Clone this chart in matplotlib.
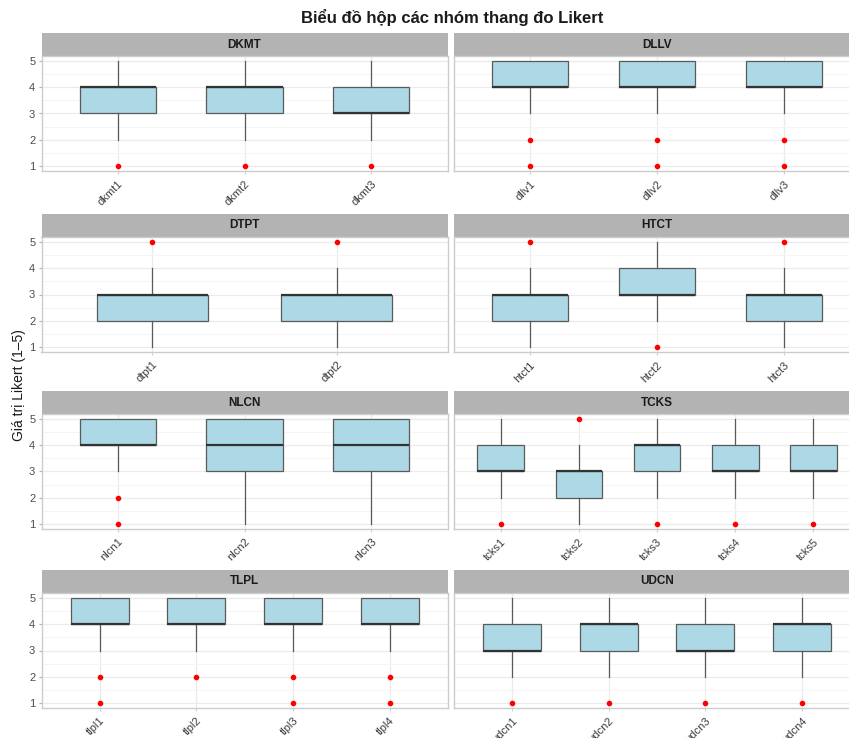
import matplotlib.pyplot as plt
from matplotlib.ticker import MultipleLocator

plt.rcParams['font.family'] = ['Liberation Sans', 'DejaVu Sans']

# box statistics, one inner list per facet
groups = ["DKMT", "DLLV", "DTPT", "HTCT", "NLCN", "TCKS", "TLPL", "UDCN"]
items = [
    ["dkmt1", "dkmt2", "dkmt3"],
    ["dllv1", "dllv2", "dllv3"],
    ["dtpt1", "dtpt2"],
    ["htct1", "htct2", "htct3"],
    ["nlcn1", "nlcn2", "nlcn3"],
    ["tcks1", "tcks2", "tcks3", "tcks4", "tcks5"],
    ["tlpl1", "tlpl2", "tlpl3", "tlpl4"],
    ["udcn1", "udcn2", "udcn3", "udcn4"],
]
q1 = [[3, 3, 3], [4, 4, 4], [2, 2], [2, 3, 2], [4, 3, 3],
      [3, 2, 3, 3, 3], [4, 4, 4, 4], [3, 3, 3, 3]]
med = [[4, 4, 3], [4, 4, 4], [3, 3], [3, 3, 3], [4, 4, 4],
       [3, 3, 4, 3, 3], [4, 4, 4, 4], [3, 4, 3, 4]]
q3 = [[4, 4, 4], [5, 5, 5], [3, 3], [3, 4, 3], [5, 5, 5],
      [4, 3, 4, 4, 4], [5, 5, 5, 5], [4, 4, 4, 4]]
whis_lo = [[2, 2, 2], [3, 3, 3], [1, 1], [1, 2, 1], [3, 1, 1],
           [2, 1, 2, 2, 2], [3, 3, 3, 3], [2, 2, 2, 2]]
whis_hi = [[5, 5, 5], [5, 5, 5], [4, 4], [4, 5, 4], [5, 5, 5],
           [5, 4, 5, 5, 5], [5, 5, 5, 5], [5, 5, 5, 5]]
outliers = [
    [[1], [1], [1]],
    [[1, 2], [1, 2], [1, 2]],
    [[5], [5]],
    [[5], [1], [5]],
    [[1, 2], [], []],
    [[1], [5], [1], [1], [1]],
    [[1, 2], [2], [1, 2], [1, 2]],
    [[1], [1], [1], [1]],
]

W, H = 849, 738
col_x = [41.5, 454]
row_top = [33, 214, 391, 570]
panel_w = 406
strip_h = 23
panel_h = 115


def frac_rect(x, top, w, h):
    return [x / W, 1 - (top + h) / H, w / W, h / H]


fig = plt.figure(figsize=(W / 100, H / 100), dpi=100)
fig.patch.set_facecolor('white')

for i, g in enumerate(groups):
    r, c = divmod(i, 2)
    x0 = col_x[c]
    top = row_top[r]

    # strip
    sax = fig.add_axes(frac_rect(x0, top, panel_w, strip_h))
    sax.set_facecolor('#b3b3b3')
    sax.set_xticks([])
    sax.set_yticks([])
    for s in sax.spines.values():
        s.set_visible(False)
    sax.text(0.5, 0.5, g, ha='center', va='center', fontsize=8.5,
             fontweight='bold', color='#1a1a1a', transform=sax.transAxes)

    # panel
    ax = fig.add_axes(frac_rect(x0, top + strip_h, panel_w, panel_h))
    stats = []
    for j, name in enumerate(items[i]):
        stats.append(dict(label=name, q1=q1[i][j], med=med[i][j], q3=q3[i][j],
                          whislo=whis_lo[i][j], whishi=whis_hi[i][j],
                          fliers=outliers[i][j]))
    n = len(stats)
    pos = list(range(1, n + 1))
    ax.bxp(stats, positions=pos, widths=0.6, patch_artist=True,
           showcaps=False,
           boxprops=dict(facecolor='#add8e6', edgecolor='#5a5a5a', linewidth=0.9),
           medianprops=dict(color='#333333', linewidth=1.6),
           whiskerprops=dict(color='#5a5a5a', linewidth=0.9),
           flierprops=dict(marker='o', markerfacecolor='red', markeredgecolor='red',
                           markersize=3),
           zorder=3)

    ax.set_xlim(0.4, n + 0.6)
    ax.set_ylim(0.8, 5.2)
    ax.yaxis.set_major_locator(MultipleLocator(1))
    ax.yaxis.set_minor_locator(MultipleLocator(0.5))
    ax.set_xticks(pos)
    ax.set_xticklabels(items[i], rotation=45, ha='right', va='top',
                       rotation_mode='anchor', fontsize=8, color='#3d3d3d')
    ax.grid(which='major', color='#ebebeb', linewidth=0.9, zorder=0)
    ax.grid(which='minor', axis='y', color='#f4f4f4', linewidth=0.6, zorder=0)
    ax.set_axisbelow(True)
    ax.tick_params(axis='x', which='major', length=2.5, color='#d0d0d0', pad=3)
    ax.tick_params(axis='y', which='major', length=2.5, color='#b3b3b3',
                   labelsize=8, labelcolor='#4d4d4d', pad=2)
    ax.tick_params(which='minor', length=0)
    if c == 1:
        ax.tick_params(axis='y', left=False, labelleft=False)
    for s in ax.spines.values():
        s.set_color('#cccccc')
        s.set_linewidth(1.0)

fig.text(452 / W, 1 - 17 / H, "Biểu đồ hộp các nhóm thang đo Likert",
         ha='center', va='center', fontsize=12, fontweight='bold', color='#1a1a1a')
fig.text(19 / W, 1 - 385 / H, "Giá trị Likert (1–5)", rotation=90,
         ha='center', va='center', fontsize=10, color='#1a1a1a')

fig.savefig('out.png', dpi=100)
